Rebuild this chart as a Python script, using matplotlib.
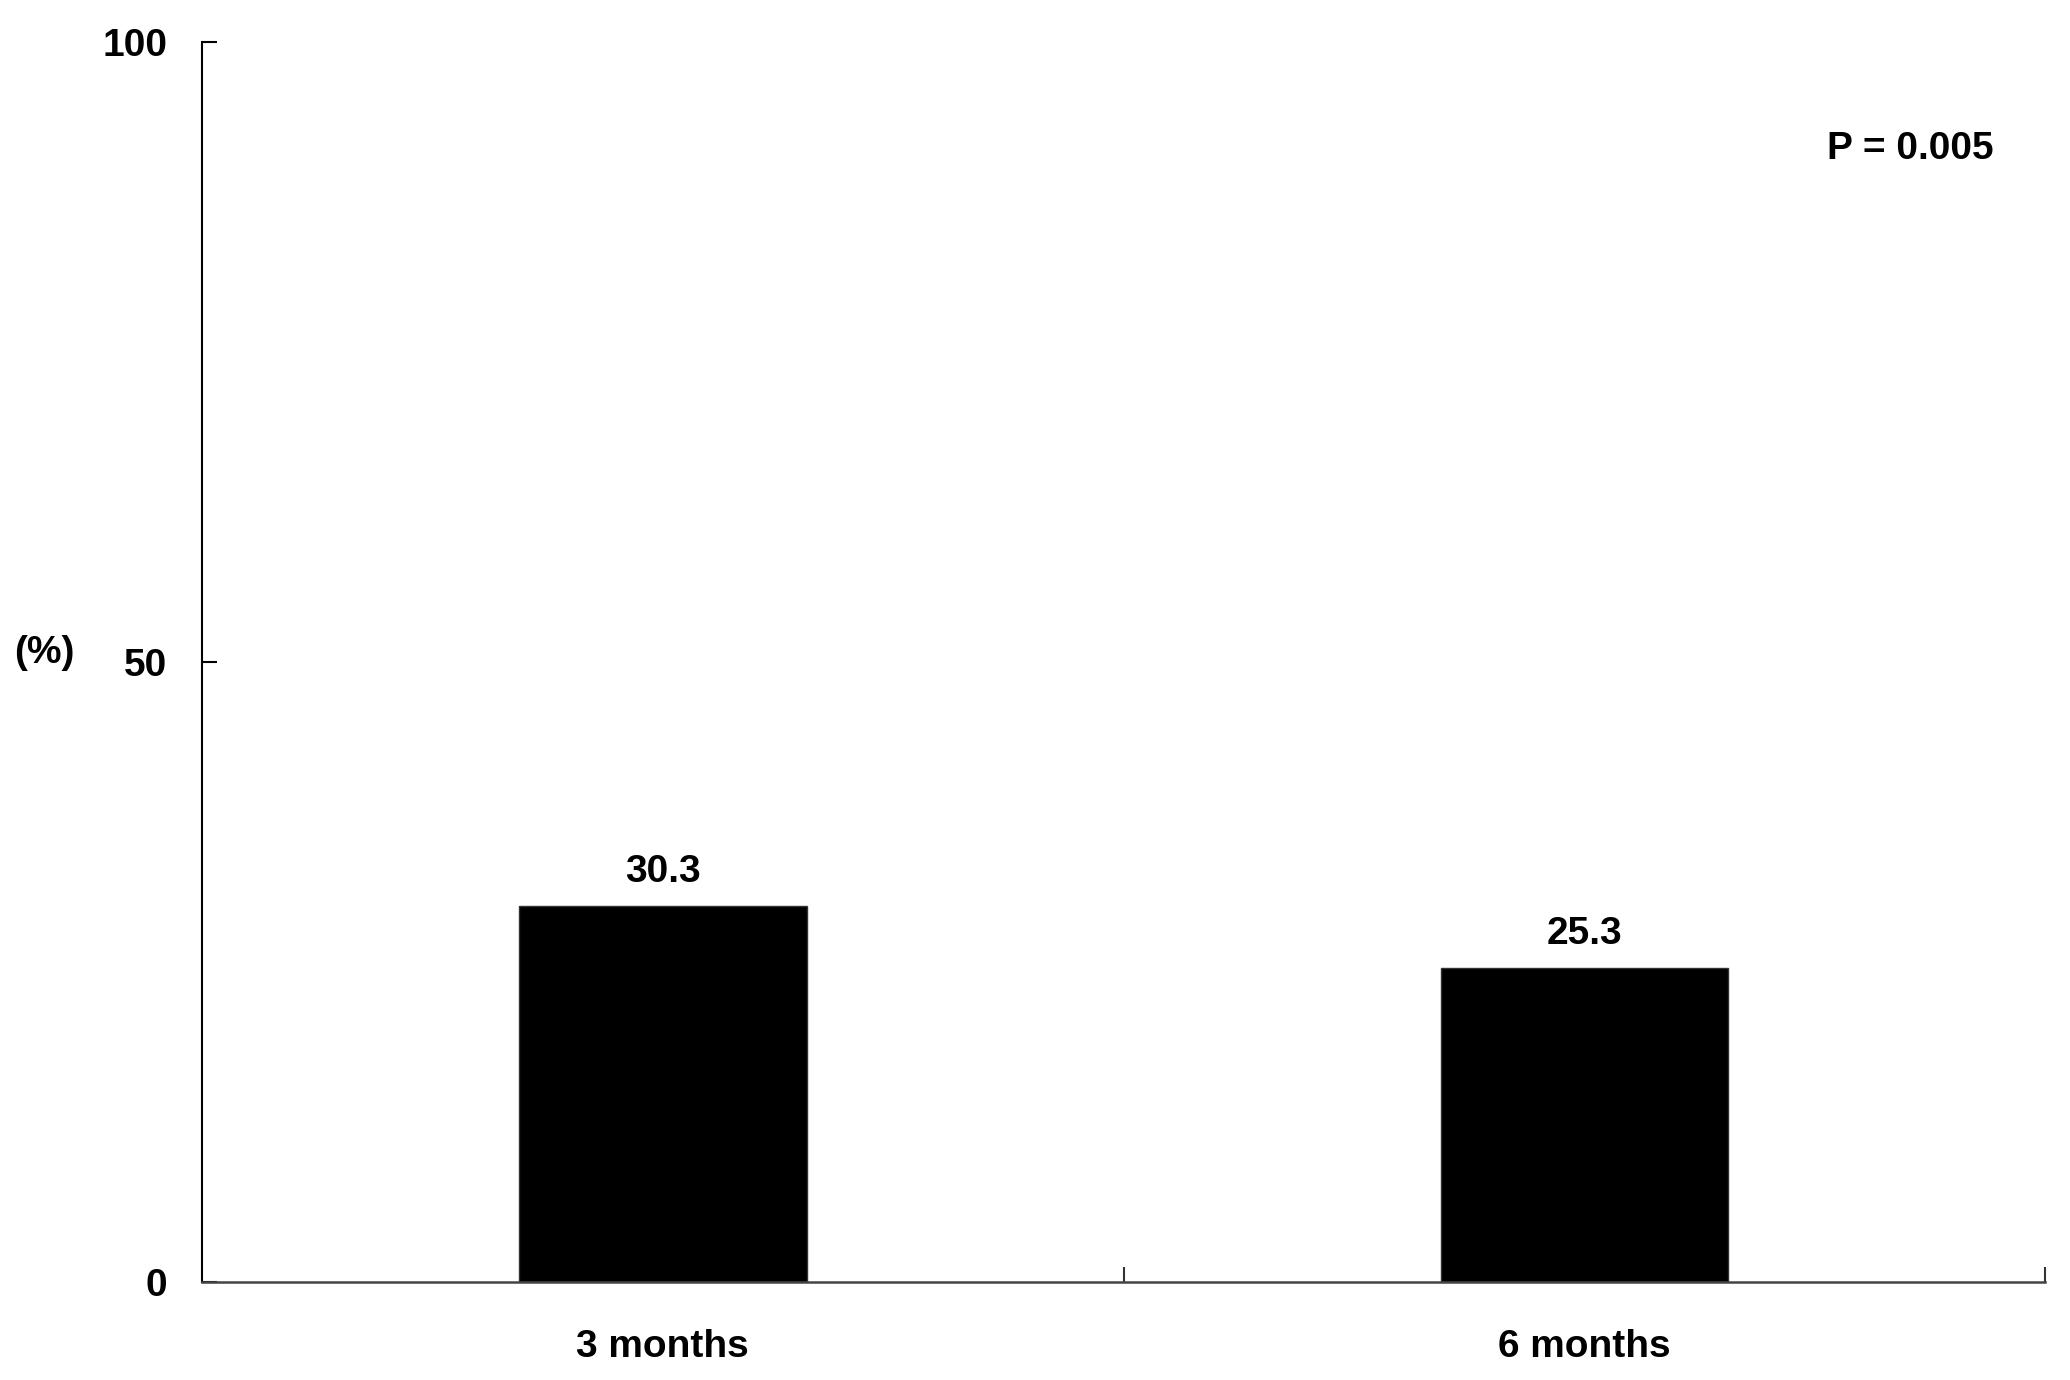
import matplotlib
matplotlib.use("Agg")
import matplotlib.pyplot as plt

categories = ["3 months", "6 months"]
values = [30.3, 25.3]
value_labels = ["30.3", "25.3"]
yticks = [0, 50, 100]
p_text = "P = 0.005"

plt.rcParams['font.family'] = ['Liberation Sans', 'DejaVu Sans']
plt.rcParams['font.weight'] = 'bold'
FS = 28

fig = plt.figure(figsize=(20.7, 13.8), dpi=100)
ax = fig.add_axes([0.0976, 0.071, 0.8904, 0.8986])

pos = list(range(len(categories)))
ax.bar(pos, values, width=0.312, color="black", edgecolor="#333333", linewidth=1)

for x, v, lab in zip(pos, values, value_labels):
    ax.annotate(lab, (x, v), xytext=(0, 12), textcoords="offset points",
                ha="center", va="bottom", fontsize=FS, fontweight="bold")

ax.set_xlim(-0.5, len(categories) - 0.5)
ax.set_ylim(0, 100)
ax.set_yticks(yticks)
ax.set_xticks(pos)
ax.set_xticklabels(categories)
ax.set_xticks([p + 0.5 for p in pos], minor=True)

ax.tick_params(axis="y", direction="in", length=11, width=1.5, pad=25,
               labelsize=FS, colors="black")
ax.tick_params(axis="x", which="major", length=0, pad=34, labelsize=FS)
ax.tick_params(axis="x", which="minor", direction="in", length=11, width=1.5,
               color="#333333")
for t in ax.get_xticklabels() + ax.get_yticklabels():
    t.set_fontweight("bold")

for s in ["top", "right"]:
    ax.spines[s].set_visible(False)
ax.spines["left"].set_linewidth(1.5)
ax.spines["left"].set_color("black")
ax.spines["bottom"].set_linewidth(1.8)
ax.spines["bottom"].set_color("#444444")

ax.text(0.927, 0.914, p_text, transform=ax.transAxes, ha="center", va="center",
        fontsize=FS, fontweight="bold")
fig.text(44 / 2070, 1 - 653 / 1380, "(%)", ha="center", va="center",
         fontsize=FS, fontweight="bold")

fig.savefig("out.png", dpi=100)
